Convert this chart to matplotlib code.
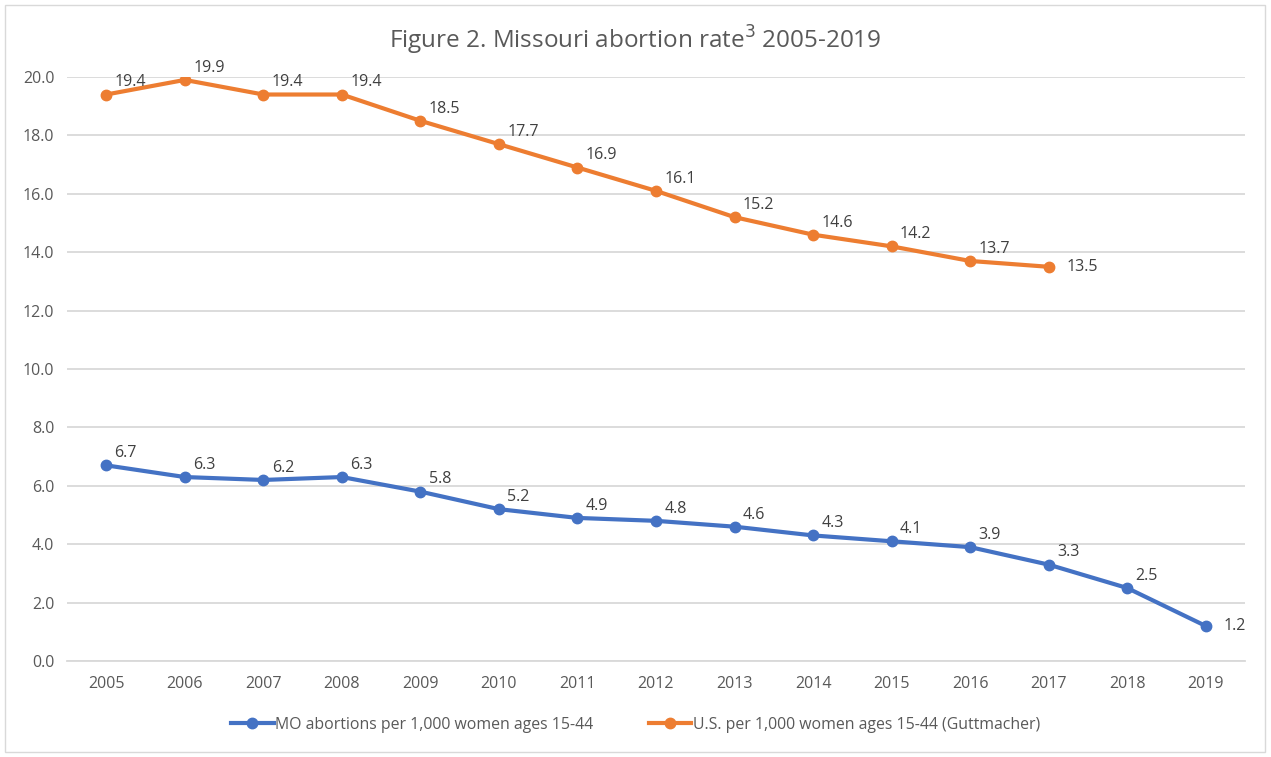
import matplotlib.pyplot as plt
from matplotlib.patches import Rectangle

plt.rcParams['font.family'] = ['Open Sans', 'DejaVu Sans']

years = ['2005', '2006', '2007', '2008', '2009', '2010', '2011', '2012',
         '2013', '2014', '2015', '2016', '2017', '2018', '2019']
mo_rate = [6.7, 6.3, 6.2, 6.3, 5.8, 5.2, 4.9, 4.8, 4.6, 4.3, 4.1, 3.9, 3.3, 2.5, 1.2]
us_rate = [19.4, 19.9, 19.4, 19.4, 18.5, 17.7, 16.9, 16.1, 15.2, 14.6, 14.2, 13.7, 13.5]

mo_name = 'MO abortions per 1,000 women ages 15-44'
us_name = 'U.S. per 1,000 women ages 15-44 (Guttmacher)'

blue = '#4472C4'
orange = '#ED7D31'
text_col = '#595959'

fig = plt.figure(figsize=(12.71, 7.57), dpi=100)
# plot area in pixels: x 67..1245, y 77..661 (from top)
ax = fig.add_axes([67 / 1271, 1 - 661 / 757, (1245 - 67) / 1271, (661 - 77) / 757])

x_mo = list(range(len(mo_rate)))
x_us = list(range(len(us_rate)))
ax.plot(x_mo, mo_rate, color=blue, lw=3, marker='o', ms=7.5, label=mo_name, zorder=3)
ax.plot(x_us, us_rate, color=orange, lw=3, marker='o', ms=7.5, label=us_name, zorder=3)

# data labels, offsets in points
def label_points(xs, ys):
    for i, (x, y) in enumerate(zip(xs, ys)):
        if i == len(ys) - 1:
            off, va = (13, 0), 'center'
        else:
            off, va = (6, 3), 'bottom'
        ax.annotate(f'{y:.1f}', (x, y), xytext=off, textcoords='offset points',
                    ha='left', va=va, fontsize=11.5, color='#404040')

label_points(x_mo, mo_rate)
label_points(x_us, us_rate)

ax.set_xlim(-0.5, len(years) - 0.5)
ax.set_ylim(0, 20)
ax.set_yticks([0, 2, 4, 6, 8, 10, 12, 14, 16, 18, 20])
ax.set_yticklabels([f'{v:.1f}' for v in ax.get_yticks()])
ax.set_xticks(range(len(years)))
ax.set_xticklabels(years)
ax.tick_params(length=0, colors=text_col, labelsize=11.5, pad=11)
ax.tick_params(axis='y', pad=9)
ax.grid(axis='y', color='#D9D9D9', lw=1.3)
ax.set_axisbelow(True)
for s in ['top', 'right', 'left']:
    ax.spines[s].set_visible(False)
ax.spines['bottom'].set_color('#D9D9D9')
ax.spines['bottom'].set_linewidth(1.3)

fig.text(0.5, 1 - 40 / 757, 'Figure 2. Missouri abortion rate$^3$ 2005-2019',
         ha='center', va='center', fontsize=17.5, color=text_col)

fig.legend(loc='center', bbox_to_anchor=(0.5, 1 - 725 / 757), ncol=2, frameon=False,
           fontsize=11.4, labelcolor=text_col, handlelength=2.7, handletextpad=0.1,
           columnspacing=3.5)

fig.add_artist(Rectangle((5 / 1271, 5 / 757), 1260 / 1271, 747 / 757,
                         transform=fig.transFigure, fill=False, ec='#D9D9D9', lw=1))

fig.savefig('out.png', dpi=100)
